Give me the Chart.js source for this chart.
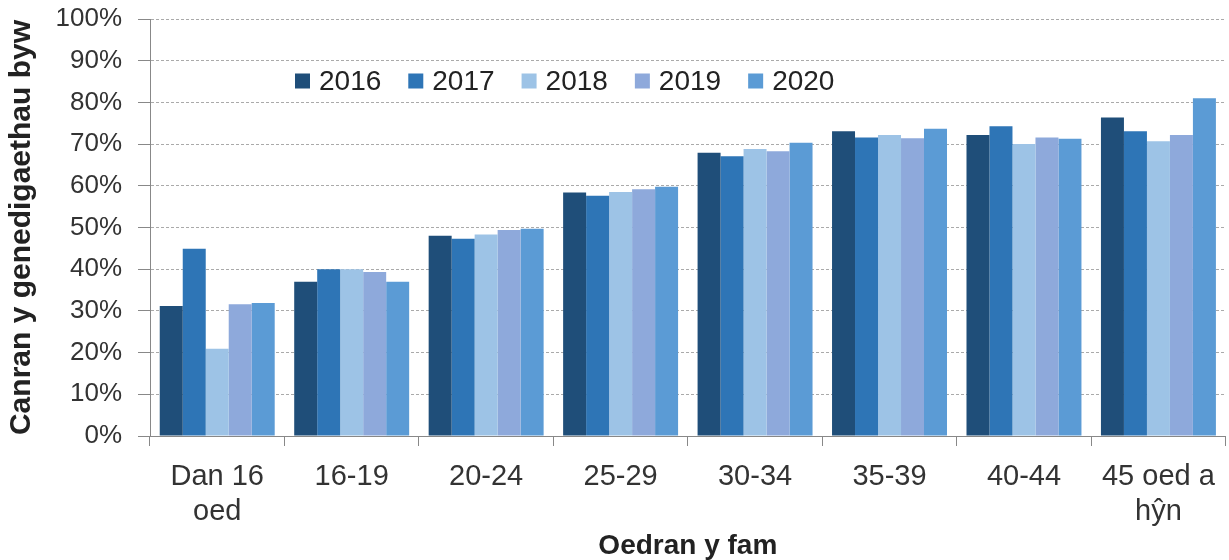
<!DOCTYPE html>
<html>
<head>
<meta charset="utf-8">
<script src="https://cdn.jsdelivr.net/npm/chart.js@4/dist/chart.umd.min.js"></script>
<style>
html,body{margin:0;padding:0;background:#fff;}
#wrap{width:1229px;height:560px;position:relative;}
</style>
</head>
<body>
<div id="wrap"><canvas id="c" width="1229" height="560"></canvas></div>
<script>
const categories = [["Dan 16","oed"],"16-19","20-24","25-29","30-34","35-39","40-44",["45 oed a","hŷn"]];
const years = ["2016","2017","2018","2019","2020"];
const v2016 = [31.2,37.0,48.0,58.4,67.9,73.1,72.2,76.4];
const v2017 = [44.9,40.0,47.3,57.6,67.1,71.6,74.3,73.1];
const v2018 = [20.9,40.0,48.3,58.5,68.8,72.2,70.0,70.7];
const v2019 = [31.6,39.3,49.4,59.2,68.3,71.4,71.6,72.2];
const v2020 = [31.9,37.0,49.7,59.8,70.3,73.7,71.3,81.0];
const yTicks = [0,10,20,30,40,50,60,70,80,90,100];
const colors = ["#1F4E79","#2E75B6","#9DC3E6","#8EA9DB","#5B9BD5"];
const seriesValues = [v2016,v2017,v2018,v2019,v2020];

const FONT = "'Liberation Sans', Arial, sans-serif";

const legendPlugin = {
  id: 'insideLegend',
  afterDatasetsDraw(chart) {
    const ctx = chart.ctx;
    ctx.save();
    ctx.font = "28px " + FONT;
    ctx.textBaseline = 'middle';
    let x = 295;
    const yc = 81;
    chart.data.datasets.forEach(ds => {
      ctx.fillStyle = ds.backgroundColor;
      ctx.fillRect(x, yc - 7.5, 15, 15);
      ctx.fillStyle = '#222';
      ctx.fillText(ds.label, x + 24, yc + 1);
      x += 24 + ctx.measureText(ds.label).width + 27;
    });
    ctx.restore();
  }
};

new Chart(document.getElementById('c'), {
  type: 'bar',
  data: {
    labels: categories,
    datasets: years.map((y, i) => ({
      label: y,
      data: seriesValues[i],
      backgroundColor: colors[i],
      borderWidth: 0,
      barPercentage: 1.0,
      categoryPercentage: 0.855
    }))
  },
  options: {
    responsive: false,
    animation: false,
    devicePixelRatio: 1,
    layout: { padding: { top: 19, right: 2, left: 0, bottom: 0 } },
    plugins: { legend: { display: false }, tooltip: { enabled: false } },
    scales: {
      x: {
        afterFit(scale) { scale.height = 124; },
        grid: { display: true, drawOnChartArea: false, drawTicks: true, tickLength: 10, offset: true, color: '#888', tickBorderDash: [] },
        border: { display: true, color: '#888', width: 1 },
        ticks: { color: '#333', font: { family: FONT, size: 29, lineHeight: 1.2 }, padding: 14, maxRotation: 0, autoSkip: false },
        title: { display: true, text: 'Oedran y fam', color: '#222', font: { family: FONT, size: 28, weight: 'bold', lineHeight: 1.0 }, padding: { top: 0, bottom: 0 } }
      },
      y: {
        min: 0, max: 100,
        afterFit(scale) { scale.width = 150; scale.paddingTop = 0; },
        afterBuildTicks(scale) { scale.ticks = yTicks.map(v => ({ value: v })); },
        grid: { color: '#aaa', lineWidth: 1, tickLength: 12, tickColor: '#888', tickBorderDash: [] },
        border: { display: true, color: '#888', width: 1, dash: [3, 2] },
        ticks: { color: '#333', font: { family: FONT, size: 26 }, padding: 16, callback: v => v + '%' },
        title: { display: true, text: 'Canran y genedigaethau byw', color: '#222', font: { family: FONT, size: 30, weight: 'bold' }, padding: { top: 4, bottom: 0 } }
      }
    }
  },
  plugins: [legendPlugin]
});
</script>
</body>
</html>
